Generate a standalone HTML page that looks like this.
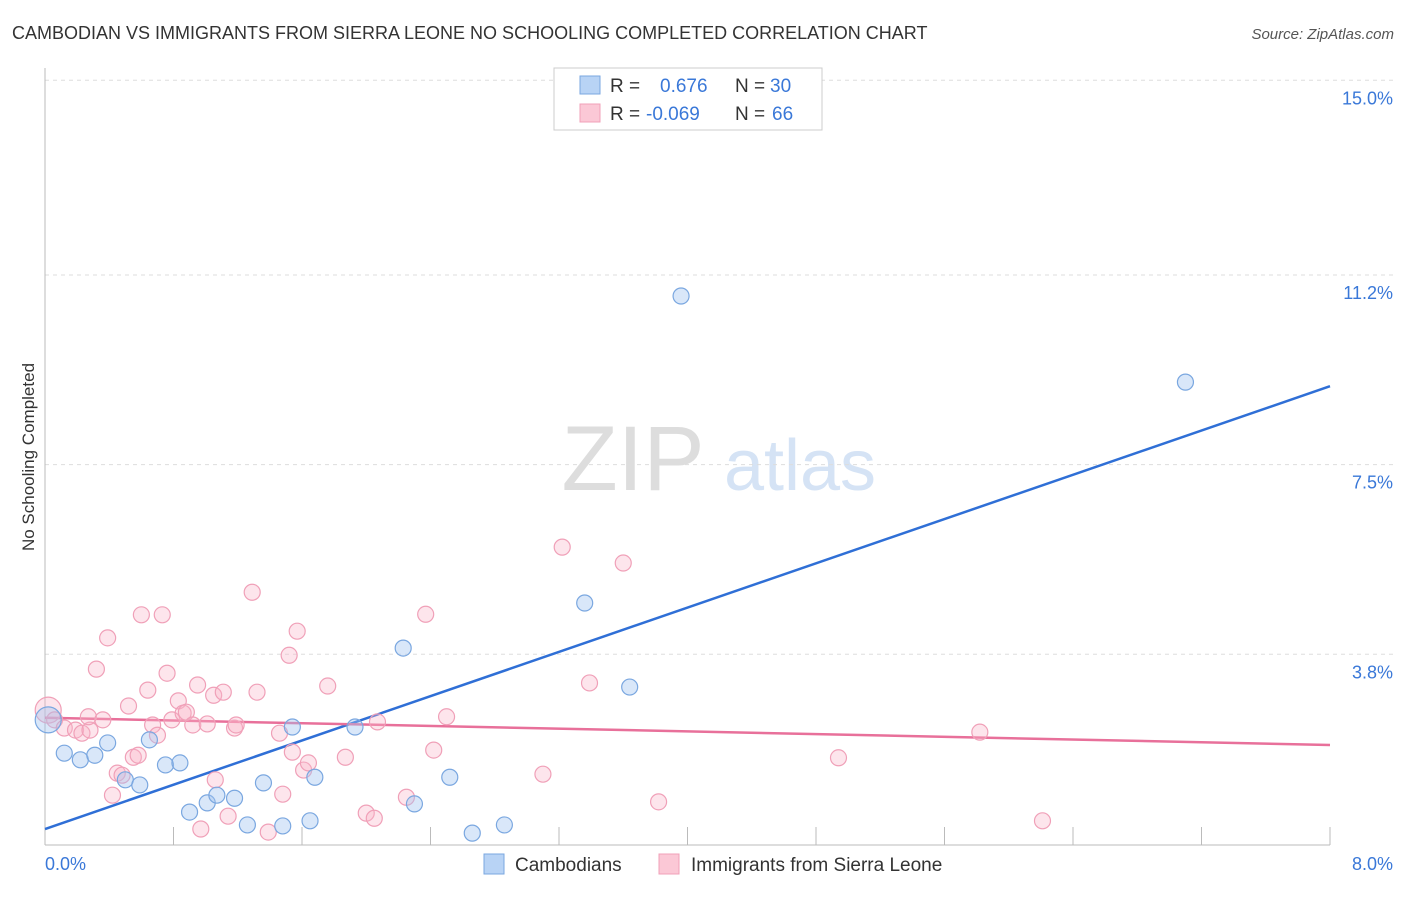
<!DOCTYPE html>
<html><head><meta charset="utf-8"><style>
body{margin:0;background:#fff;font-family:"Liberation Sans",sans-serif;}
svg text{font-family:"Liberation Sans",sans-serif;}
</style></head><body>
<svg id="chart" width="1406" height="892">
<text x="12" y="39" font-size="18" fill="#333">CAMBODIAN VS IMMIGRANTS FROM SIERRA LEONE NO SCHOOLING COMPLETED CORRELATION CHART</text>
<text x="1394" y="39" font-size="15" fill="#555" font-style="italic" text-anchor="end">Source: ZipAtlas.com</text>
<text x="0" y="0" transform="translate(34,457) rotate(-90)" font-size="17" fill="#333" text-anchor="middle">No Schooling Completed</text>
<g>
<text x="633" y="490" font-size="92" fill="#ddd" font-family="Liberation Serif" text-anchor="middle">ZIP</text>
<text x="800" y="490" font-size="72" fill="#d5e3f5" text-anchor="middle">atlas</text>
</g>
<g id="grid"></g><g id="axes"></g><g id="lines"></g><g id="pts"></g>
<g>
<rect x="554" y="68" width="268" height="62" fill="#fff" stroke="#ccc"/>
<rect x="580" y="76" width="20" height="18" fill="#b8d3f5" stroke="#7aa7e0"/>
<text x="610" y="92" font-size="19" fill="#333">R =</text><text x="660" y="92" font-size="19" fill="#3a78d8">0.676</text>
<text x="735" y="92" font-size="19" fill="#333">N =</text><text x="770" y="92" font-size="19" fill="#3a78d8">30</text>
<rect x="580" y="104" width="20" height="18" fill="#fbc8d6" stroke="#f0a0b8"/>
<text x="610" y="120" font-size="19" fill="#333">R =</text><text x="646" y="120" font-size="19" fill="#3a78d8">-0.069</text>
<text x="735" y="120" font-size="19" fill="#333">N =</text><text x="772" y="120" font-size="19" fill="#3a78d8">66</text>
</g>
<g>
<rect x="484" y="854" width="20" height="20" fill="#b8d3f5" stroke="#7aa7e0"/>
<text x="515" y="871" font-size="19" fill="#333">Cambodians</text>
<rect x="659" y="854" width="20" height="20" fill="#fbc8d6" stroke="#f0a0b8"/>
<text x="691" y="871" font-size="19" fill="#333">Immigrants from Sierra Leone</text>
</g>
</svg>
<script>
const yTicks=[15.0,11.2,7.5,3.8];
const yTickLabels=["15.0%","11.2%","7.5%","3.8%"];
const xTickCount=10;
const blueX=[0.02,0.12,0.22,0.31,0.39,0.50,0.59,0.65,0.75,0.84,0.90,1.01,1.07,1.18,1.26,1.36,1.48,1.54,1.65,1.68,1.93,2.23,2.30,2.52,2.66,2.86,3.36,3.64,3.96,7.10];
const blueY=[2.52,1.87,1.74,1.83,2.07,1.35,1.25,2.13,1.64,1.68,0.72,0.90,1.05,0.99,0.47,1.29,0.45,2.38,0.55,1.40,2.38,3.92,0.88,1.40,0.31,0.47,4.80,3.16,10.79,9.11];
const pinkX=[0.02,0.06,0.12,0.19,0.23,0.28,0.27,0.32,0.36,0.39,0.42,0.45,0.48,0.52,0.55,0.58,0.60,0.64,0.67,0.70,0.73,0.76,0.79,0.83,0.86,0.88,0.92,0.97,0.95,1.01,1.05,1.06,1.11,1.14,1.18,1.19,1.29,1.32,1.39,1.46,1.48,1.52,1.54,1.57,1.61,1.64,1.76,1.87,2.00,2.05,2.07,2.25,2.37,2.42,2.50,3.10,3.22,3.39,3.60,3.82,4.94,5.82,6.21];
const pinkY=[2.71,2.52,2.36,2.32,2.26,2.32,2.58,3.51,2.52,4.12,1.05,1.48,1.44,2.79,1.79,1.83,4.57,3.10,2.42,2.22,4.57,3.43,2.52,2.89,2.65,2.67,2.42,0.39,3.20,2.44,3.00,1.35,3.06,0.64,2.36,2.42,5.01,3.06,0.33,2.26,1.07,3.78,1.89,4.25,1.54,1.68,3.18,1.79,0.70,0.60,2.48,1.01,4.58,1.93,2.58,1.46,5.89,3.24,5.58,0.92,1.78,2.28,0.55];
const blueLine=[0.39,9.03];
const pinkLine=[2.56,2.03];
const X0=45,X1=1330,XMAX=8;
const sx=v=>X0+(X1-X0)*v/XMAX;
const sy=v=>849-v*51.25;
const NS="http://www.w3.org/2000/svg";
function mk(p,t,a){const e=document.createElementNS(NS,t);for(const k in a)e.setAttribute(k,a[k]);document.getElementById(p).appendChild(e);return e;}
yTicks.forEach((t,i)=>{
 const l=mk('grid','line',{x1:X0,x2:1394,y1:sy(t),y2:sy(t),stroke:'#ddd','stroke-dasharray':'4,4'});
 
 
 const tx=mk('grid','text',{x:1393,y:sy(t)+24,'font-size':18,fill:'#3a78d8','text-anchor':'end'});
 tx.textContent=yTickLabels[i];
 
 
});
const ax=mk('axes','line',{x1:X0,x2:X0,y1:68,y2:845,stroke:'#bbb'});


const bx=mk('axes','line',{x1:X0,x2:X1,y1:845,y2:845,stroke:'#bbb'});


for(let i=0;i<=xTickCount;i++){const v=XMAX*i/xTickCount;
 const t=mk('axes','line',{x1:sx(v),x2:sx(v),y1:827,y2:845,stroke:'#bbb'});
 
 }
const xl0=mk('axes','text',{x:45,y:870,'font-size':18,fill:'#3a78d8'});xl0.textContent='0.0%';


const xl1=mk('axes','text',{x:1393,y:870,'font-size':18,fill:'#3a78d8','text-anchor':'end'});xl1.textContent='8.0%';


function pts(xs,ys,fill,stroke,name){xs.forEach((x,i)=>{
 const c=mk('pts','circle',{cx:sx(x),cy:sy(ys[i]),r:i===0?13:8,fill:fill,stroke:stroke,'stroke-width':1.2});
 
 });}
pts(pinkX,pinkY,'rgba(248,180,200,0.35)','#f0a0b8','sierra-leone-point');
pts(blueX,blueY,'rgba(160,195,240,0.4)','#7aa7e0','cambodian-point');
const bl=mk('lines','line',{x1:sx(0),y1:sy(blueLine[0]),x2:sx(8),y2:sy(blueLine[1]),stroke:'#2f6fd6','stroke-width':2.5});


const pl=mk('lines','line',{x1:sx(0),y1:sy(pinkLine[0]),x2:sx(8),y2:sy(pinkLine[1]),stroke:'#e8709a','stroke-width':2.5});


</script>
</body></html>
